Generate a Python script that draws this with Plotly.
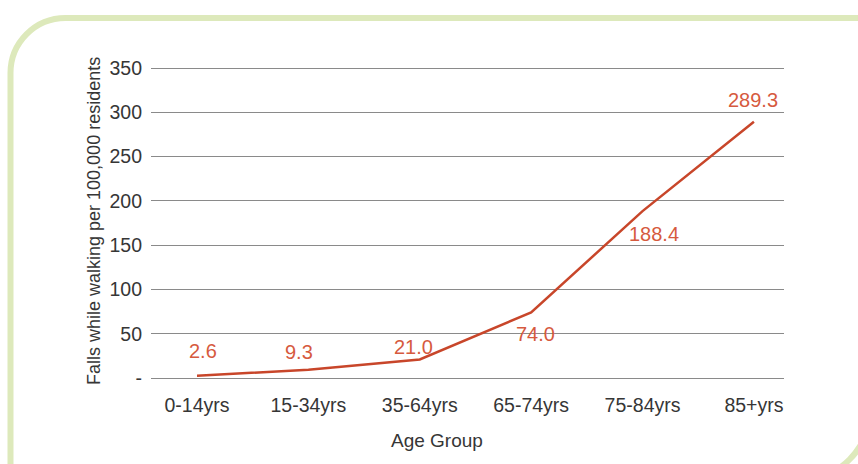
import plotly.graph_objects as go

# ---- data ----
age_groups = ["0-14yrs", "15-34yrs", "35-64yrs", "65-74yrs", "75-84yrs", "85+yrs"]
falls_rate = [2.6, 9.3, 21.0, 74.0, 188.4, 289.3]
y_tickvals = [0, 50, 100, 150, 200, 250, 300, 350]
y_ticktext = ["-", "50", "100", "150", "200", "250", "300", "350"]
x_title = "Age Group"
y_title = "Falls while walking per 100,000 residents"

# ---- style ----
label_xshift = [6, -9, -6, 4, 11, -1]
label_yshift = [25, 18, 12, -22, -23, 22]
W, H = 858, 464
ML, MT = 151, 63
PW = 784 - 151
PH = 320
MR = W - ML - PW
MB = H - MT - PH
YR = [-5.65, 355.65]
FONT = "Liberation Sans, Arial, sans-serif"
LINE_COLOR = "#c8462a"
LABEL_COLOR = "#d65a3e"
TEXT_COLOR = "#363636"
FRAME_COLOR = "#dde9bb"

fig = go.Figure()
xs = list(range(len(age_groups)))
fig.add_trace(go.Scatter(
    x=xs, y=falls_rate, mode="lines",
    line=dict(color=LINE_COLOR, width=2.5),
    hoverinfo="skip", showlegend=False,
))

annotations = []
for i, v in enumerate(falls_rate):
    annotations.append(dict(
        x=i, y=v, xref="x", yref="y", text=f"{v:.1f}", showarrow=False,
        xshift=label_xshift[i], yshift=label_yshift[i],
        font=dict(family=FONT, size=20, color=LABEL_COLOR),
    ))

def px2paper(X, Y):
    return (X - ML) / PW, (MT + PH - Y) / PH

annotations.append(dict(
    x=px2paper(94, 0)[0], y=px2paper(0, 221)[1], xref="paper", yref="paper",
    text=y_title, textangle=-90, showarrow=False, xanchor="center", yanchor="middle",
    font=dict(family=FONT, size=18, color=TEXT_COLOR),
))
annotations.append(dict(
    x=px2paper(437, 0)[0], y=px2paper(0, 440)[1], xref="paper", yref="paper",
    text=x_title, showarrow=False, xanchor="center", yanchor="middle",
    font=dict(family=FONT, size=19, color=TEXT_COLOR),
))

L, T = 10.5, 18
c = 0.5523
def P(X, Y):
    a, b = px2paper(X, Y)
    return f"{a:.5f},{b:.5f}"
rTL = 55
frame_main = (
    f"M {P(L, 470)} L {P(L, T + rTL)} "
    f"C {P(L, T + rTL - c * rTL)} {P(L + rTL - c * rTL, T)} {P(L + rTL, T)} "
    f"L {P(860, T)}"
)
cx, cy, rr = 800, 410, 70
frame_corner = (
    f"M {P(cx + rr, cy)} C {P(cx + rr, cy + c * rr)} {P(cx + c * rr, cy + rr)} {P(cx, cy + rr)}"
)

fig.update_layout(
    width=W, height=H,
    margin=dict(l=ML, r=MR, t=MT, b=MB, pad=0),
    paper_bgcolor="white", plot_bgcolor="white",
    showlegend=False,
    annotations=annotations,
    shapes=[
        dict(type="path", path=frame_main, xref="paper", yref="paper",
             line=dict(color=FRAME_COLOR, width=6), layer="below"),
        dict(type="path", path=frame_corner, xref="paper", yref="paper",
             line=dict(color=FRAME_COLOR, width=6), layer="below"),
    ],
    xaxis=dict(
        tickmode="array", tickvals=xs, ticktext=age_groups,
        range=[-0.413, 5.27], showgrid=False, zeroline=False, showline=False,
        ticks="", ticklabelstandoff=8,
        tickfont=dict(family=FONT, size=19.5, color=TEXT_COLOR),
    ),
    yaxis=dict(
        tickmode="array", tickvals=y_tickvals, ticktext=y_ticktext,
        range=YR, showgrid=True, gridcolor="#8a8a8a", gridwidth=1,
        zeroline=False, showline=False, ticks="", ticklabelstandoff=8,
        tickfont=dict(family=FONT, size=19.5, color=TEXT_COLOR),
    ),
)

fig.write_html(
    "out.html",
    config={"displayModeBar": False},
    post_script="document.body.style.margin='0';document.body.style.overflow='hidden';",
)
